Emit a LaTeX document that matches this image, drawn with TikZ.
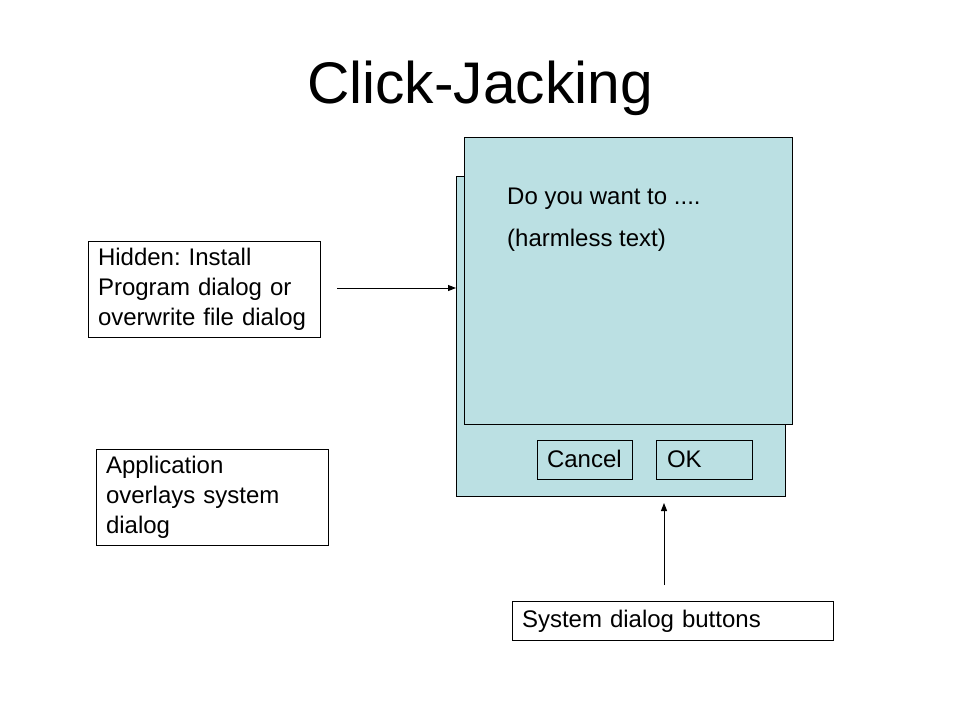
\documentclass[tikz,border=0pt]{standalone}
\usepackage{fontspec}
\setmainfont{Liberation Sans}
\usetikzlibrary{arrows.meta}
\definecolor{dialogfill}{RGB}{187,224,227}
\frenchspacing
\tikzset{
  box/.style={draw, line width=1pt, inner xsep=10pt, inner ysep=0pt, align=left,
    font=\fontsize{24}{30}\selectfont},
  button/.style={box, minimum height=39pt, text height=17pt, text depth=1pt},
  dialog/.style={draw, line width=1pt, fill=dialogfill, inner sep=0pt},
  arrowline/.style={line width=1pt, -{Triangle[length=8pt,width=6pt]}}
}
\begin{document}
\begin{tikzpicture}[x=1pt, y=-1pt]
  \useasboundingbox (0,0) rectangle (960,720);

  % Title
  \node[anchor=base, font=\fontsize{58.7}{70}\selectfont] (title) at (480,103) {Click-Jacking};

  % System dialog underneath, with its buttons
  \node[dialog, minimum width=329pt, minimum height=320pt] (system) at (620.5,336.5) {};
  \node[button, minimum width=95pt, text width=75pt, inner xsep=9pt] (cancel) at (584.5,459.5) {Cancel};
  \node[button, minimum width=96pt, text width=74pt, inner xsep=11pt] (ok) at (704,459.5) {OK};

  % Application dialog on top
  \node[dialog, minimum width=328pt, minimum height=287pt] (front) at (628,280.5) {};
  \node[anchor=base west, font=\fontsize{24}{29}\selectfont, inner sep=0pt] (question) at (507,204) {Do you want to ....};
  \node[anchor=base west, font=\fontsize{24}{29}\selectfont, inner sep=0pt] (harmless) at (507,246) {(harmless text)};

  % Labels
  \node[box, minimum width=232pt, minimum height=96pt, text width=212pt] (hidden) at (204,289)
    {Hidden: Install\\Program dialog or\\overwrite file dialog};
  \node[box, minimum width=232pt, minimum height=96pt, text width=212pt] (overlay) at (212,497)
    {Application\\overlays system\\dialog};
  \node[box, minimum width=321pt, minimum height=39pt, text width=301pt,
    text height=17pt, text depth=3pt] (buttons) at (672.5,620.5)
    {System dialog buttons};

  % Arrows
  \coordinate (hiddenout) at (337,288);
  \coordinate (systemin) at (456,288);
  \coordinate (buttonsout) at (664,585);
  \coordinate (systembottom) at (664,503);
  \draw[arrowline] (hiddenout) -- (systemin);
  \draw[arrowline] (buttonsout) -- (systembottom);
\end{tikzpicture}
\end{document}
